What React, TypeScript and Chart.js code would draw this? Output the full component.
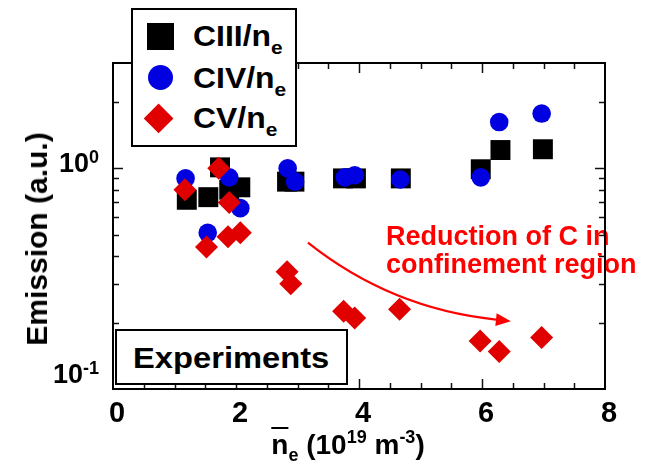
import React, { useEffect, useRef } from 'react';
import { Chart, registerables } from 'chart.js';

Chart.register(...registerables);

const FONT = '"Liberation Sans", Arial, Helvetica, sans-serif';

// ---- data (density in 1e19 m^-3, emission in a.u.) ----
const ciiiX = [1.2, 1.55, 1.74, 1.89, 2.07, 2.83, 2.95, 3.74, 3.95, 4.68, 5.98, 6.3, 6.99];
const ciiiY = [0.72, 0.74, 1.01, 0.8, 0.82, 0.87, 0.87, 0.9, 0.9, 0.9, 0.99, 1.21, 1.22];
const civX = [1.18, 1.89, 2.07, 1.54, 2.84, 2.96, 3.77, 3.93, 4.67, 5.98, 6.28, 6.97];
const civY = [0.9, 0.91, 0.66, 0.51, 1.0, 0.87, 0.91, 0.93, 0.89, 0.91, 1.62, 1.77];
const cvX = [1.72, 1.17, 1.89, 1.52, 1.87, 2.07, 2.83, 2.89, 3.75, 3.93, 4.66, 5.97, 6.28, 6.97];
const cvY = [1.0, 0.8, 0.7, 0.44, 0.49, 0.51, 0.34, 0.3, 0.225, 0.21, 0.23, 0.165, 0.148, 0.171];

// ---- axes ----
const xMin = 0;
const xMax = 8;
const xLabelStep = 2;
const xMajorTicks = [2, 4, 6];
const xMinorTicks = [0.5, 1, 1.5, 2.5, 3, 3.5, 4.5, 5, 5.5, 6.5, 7, 7.5];
const yMin = 0.1;
const yMax = 3;
const yMajorTicks = [1];
const yMinorTicks = [0.2, 0.3, 0.4, 0.5, 0.6, 0.7, 0.8, 0.9, 2];
const yTickValues = [1, 0.1];
const yTickExponents = ['0', '-1'];

// ---- annotation ----
const arrowFrom = [3.17, 0.46];
const arrowVia = [4.52, 0.231];
const arrowTo = [6.47, 0.203];
const noteLines = ['Reduction of C in', 'confinement region'];
const noteAnchor = [4.44, 0.45];

const RED = '#e00000';
const BLUE = '#0000e0';

const toPts = (xs: number[], ys: number[]) => xs.map((x, i) => ({ x, y: ys[i] }));

const framePlugin = {
  id: 'framePlugin',
  afterDatasetsDraw(chart: any) {
    const { ctx, chartArea: a, scales } = chart;
    const xs = scales.x;
    const ys = scales.y;
    ctx.save();

    // annotation text
    ctx.fillStyle = '#ff0000';
    ctx.font = `bold 27px ${FONT}`;
    ctx.textAlign = 'left';
    ctx.textBaseline = 'alphabetic';
    const nx = xs.getPixelForValue(noteAnchor[0]);
    const ny = ys.getPixelForValue(noteAnchor[1]);
    noteLines.forEach((t, i) => ctx.fillText(t, nx, ny + i * 28));

    // arrow
    const p0 = [xs.getPixelForValue(arrowFrom[0]), ys.getPixelForValue(arrowFrom[1])];
    const pc = [xs.getPixelForValue(arrowVia[0]), ys.getPixelForValue(arrowVia[1])];
    const p1 = [xs.getPixelForValue(arrowTo[0]), ys.getPixelForValue(arrowTo[1])];
    const ang = Math.atan2(p1[1] - pc[1], p1[0] - pc[0]);
    const headL = 15;
    const headW = 6.5;
    const bx = p1[0] - headL * Math.cos(ang);
    const by = p1[1] - headL * Math.sin(ang);
    ctx.strokeStyle = '#ff0000';
    ctx.lineWidth = 2.2;
    ctx.beginPath();
    ctx.moveTo(p0[0], p0[1]);
    ctx.quadraticCurveTo(pc[0], pc[1], bx, by);
    ctx.stroke();
    ctx.fillStyle = '#ff0000';
    ctx.beginPath();
    ctx.moveTo(p1[0], p1[1]);
    ctx.lineTo(bx + headW * Math.sin(ang), by - headW * Math.cos(ang));
    ctx.lineTo(bx - headW * Math.sin(ang), by + headW * Math.cos(ang));
    ctx.closePath();
    ctx.fill();

    // ticks (inward, all four sides)
    ctx.strokeStyle = '#111';
    ctx.lineWidth = 1.5;
    const seg = (x1: number, y1: number, x2: number, y2: number) => {
      ctx.beginPath();
      ctx.moveTo(x1, y1);
      ctx.lineTo(x2, y2);
      ctx.stroke();
    };
    const xt = (v: number, len: number) => {
      const px = Math.round(xs.getPixelForValue(v)) + 0.5;
      seg(px, a.bottom, px, a.bottom - len);
      seg(px, a.top, px, a.top + len);
    };
    const yt = (v: number, len: number) => {
      const py = Math.round(ys.getPixelForValue(v)) + 0.5;
      seg(a.left, py, a.left + len, py);
      seg(a.right, py, a.right - len, py);
    };
    xMinorTicks.forEach((v) => xt(v, 6));
    xMajorTicks.forEach((v) => xt(v, 10));
    yMinorTicks.forEach((v) => yt(v, 6));
    yMajorTicks.forEach((v) => yt(v, 10));

    // frame
    ctx.strokeStyle = '#000';
    ctx.lineWidth = 2;
    ctx.strokeRect(a.left, a.top, a.right - a.left, a.bottom - a.top);

    // y tick labels with superscripts
    ctx.fillStyle = '#000';
    const right = a.left - 14;
    yTickValues.forEach((v, i) => {
      const py = ys.getPixelForValue(v);
      const base = Math.min(py + 4, a.bottom - 6);
      ctx.font = `bold 18px ${FONT}`;
      const ws = ctx.measureText(yTickExponents[i]).width;
      ctx.font = `bold 27px ${FONT}`;
      const wb = ctx.measureText('10').width;
      ctx.fillText('10', right - ws - wb, base);
      ctx.font = `bold 18px ${FONT}`;
      ctx.fillText(yTickExponents[i], right - ws, base - 9);
    });

    ctx.restore();
  },
};

function LegendRow({ top, children }: { top: number; children: React.ReactNode }) {
  return (
    <div
      style={{
        position: 'absolute',
        left: 60,
        top,
        fontSize: 29,
        lineHeight: '29px',
        fontWeight: 'bold',
        whiteSpace: 'nowrap',
        transform: 'scaleX(1.1)',
        transformOrigin: 'left center',
      }}
    >
      {children}
    </div>
  );
}

export default function App() {
  const ref = useRef<HTMLCanvasElement | null>(null);

  useEffect(() => {
    if (!ref.current) return;
    const chart = new Chart(ref.current, {
      type: 'scatter',
      data: {
        datasets: [
          {
            label: 'CIII/ne',
            data: toPts(ciiiX, ciiiY),
            pointStyle: 'rect',
            pointRadius: 14.1,
            backgroundColor: '#000',
            borderWidth: 0,
            order: 3,
          },
          {
            label: 'CIV/ne',
            data: toPts(civX, civY),
            pointStyle: 'circle',
            pointRadius: 9.3,
            backgroundColor: BLUE,
            borderWidth: 0,
            order: 2,
          },
          {
            label: 'CV/ne',
            data: toPts(cvX, cvY),
            pointStyle: 'rectRot',
            pointRadius: 11.5,
            backgroundColor: RED,
            borderWidth: 0,
            order: 1,
          },
        ],
      },
      options: {
        animation: false,
        responsive: false,
        events: [],
        layout: { padding: { left: 0, top: 63, right: 42, bottom: 0 } },
        plugins: { legend: { display: false }, tooltip: { enabled: false } },
        scales: {
          x: {
            type: 'linear',
            min: xMin,
            max: xMax,
            grid: { display: false, drawTicks: false },
            border: { display: false },
            ticks: {
              stepSize: xLabelStep,
              color: '#000',
              padding: 8,
              labelOffset: 4,
              font: { family: FONT, size: 29, weight: 'bold' },
            },
            afterFit: (s: any) => {
              s.height = 78;
            },
          },
          y: {
            type: 'logarithmic',
            min: yMin,
            max: yMax,
            grid: { display: false, drawTicks: false },
            border: { display: false },
            ticks: { display: false },
            afterFit: (s: any) => {
              s.width = 113;
            },
          },
        },
      },
      plugins: [framePlugin],
    } as any);
    return () => chart.destroy();
  }, []);

  return (
    <div style={{ position: 'relative', width: 647, height: 467, fontFamily: FONT, background: '#fff' }}>
      <style>{'body{margin:0;}'}</style>
      <canvas ref={ref} width={647} height={467} style={{ position: 'absolute', left: 0, top: 0 }} />

      {/* y axis title */}
      <div
        style={{
          position: 'absolute',
          left: 36.6,
          top: 239,
          transform: 'translate(-50%, -50%) rotate(-90deg)',
          fontSize: 30,
          lineHeight: '30px',
          fontWeight: 'bold',
          whiteSpace: 'nowrap',
        }}
      >
        Emission (a.u.)
      </div>

      {/* x axis title */}
      <div
        style={{
          position: 'absolute',
          left: 348,
          top: 431,
          transform: 'translateX(-50%)',
          fontSize: 28,
          lineHeight: '28px',
          fontWeight: 'bold',
          whiteSpace: 'nowrap',
        }}
      >
        <span style={{ textDecoration: 'overline' }}>n</span>
        <span style={{ fontSize: 18, position: 'relative', top: 7 }}>e</span> (10
        <span style={{ fontSize: 18, position: 'relative', top: -11 }}>19</span> m
        <span style={{ fontSize: 18, position: 'relative', top: -11 }}>-3</span>)
      </div>

      {/* legend */}
      <div
        style={{
          position: 'absolute',
          left: 131,
          top: 8,
          width: 166,
          height: 139,
          border: '2px solid #000',
          boxSizing: 'border-box',
          background: '#fff',
        }}
      >
        <div style={{ position: 'absolute', left: 14, top: 13, width: 27, height: 27, background: '#000' }} />
        <div style={{ position: 'absolute', left: 14.5, top: 54.5, width: 25, height: 25, borderRadius: '50%', background: BLUE }} />
        <div
          style={{
            position: 'absolute',
            left: 15.4,
            top: 97.9,
            width: 21.2,
            height: 21.2,
            background: RED,
            transform: 'rotate(45deg)',
          }}
        />
        <LegendRow top={12.2}>
          CIII/n<span style={{ fontSize: 19, position: 'relative', top: 8 }}>e</span>
        </LegendRow>
        <LegendRow top={53.5}>
          CIV/n<span style={{ fontSize: 19, position: 'relative', top: 8 }}>e</span>
        </LegendRow>
        <LegendRow top={93.5}>
          CV/n<span style={{ fontSize: 19, position: 'relative', top: 8 }}>e</span>
        </LegendRow>
      </div>

      {/* Experiments label */}
      <div
        style={{
          position: 'absolute',
          left: 115,
          top: 329,
          width: 233,
          height: 56,
          border: '2px solid #000',
          boxSizing: 'border-box',
          background: '#fff',
        }}
      >
        <div
          style={{
            position: 'absolute',
            left: 16,
            top: 11.6,
            fontSize: 30,
            lineHeight: '30px',
            fontWeight: 'bold',
            whiteSpace: 'nowrap',
            transform: 'scaleX(1.09)',
            transformOrigin: 'left center',
          }}
        >
          Experiments
        </div>
      </div>
    </div>
  );
}
